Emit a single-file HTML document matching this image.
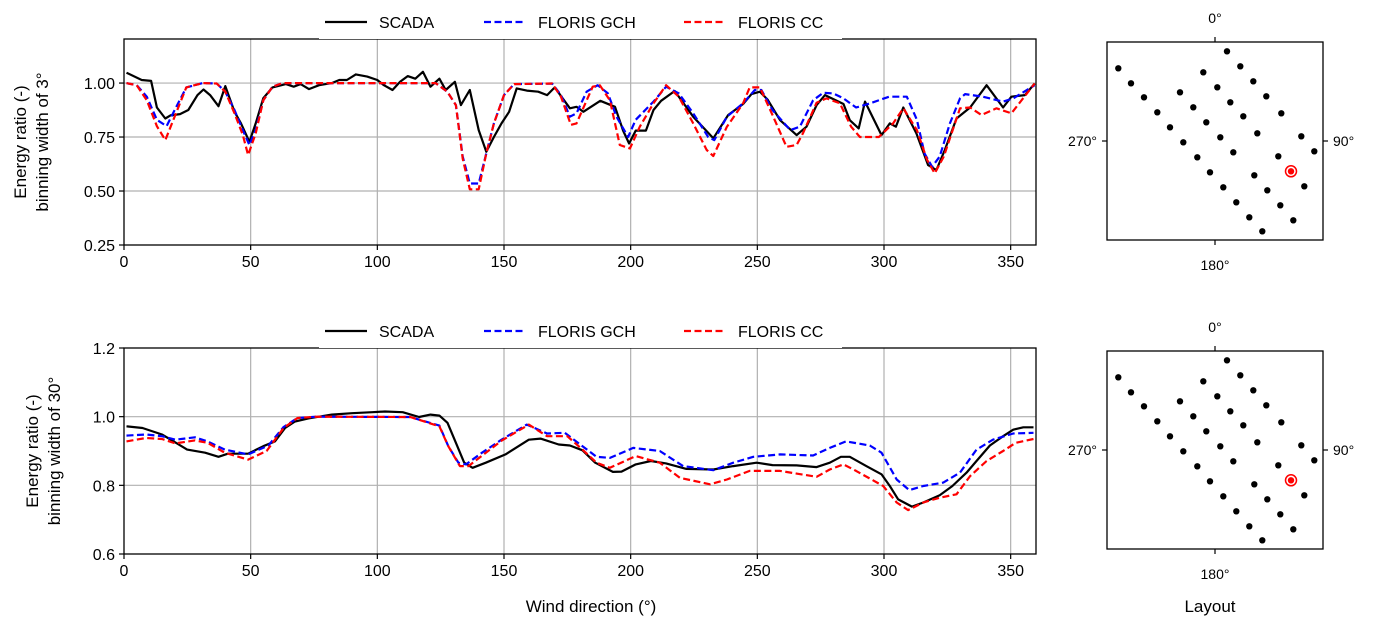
<!DOCTYPE html>
<html><head><meta charset="utf-8">
<style>
body{margin:0;background:#fff;}
svg{display:block;font-family:"Liberation Sans","DejaVu Sans",sans-serif;}
</style></head>
<body>
<svg id="fig" width="1379" height="629" viewBox="0 0 1379 629"></svg>
<script>
// ---- data ----
const xTicks = [0,50,100,150,200,250,300,350];
const topYTicks = [0.25,0.50,0.75,1.00];
const topYLabels = ["0.25","0.50","0.75","1.00"];
const botYTicks = [0.6,0.8,1.0,1.2];
const botYLabels = ["0.6","0.8","1.0","1.2"];
const seriesNames = ["SCADA","FLORIS GCH","FLORIS CC"];

const topScadaDir = [1,7,10.7,13,16.3,18.3,22.1,25.4,29,31.4,34,37.3,40,43.6,46.2,49.5,52,55,58.6,63.9,67,69.7,73,77,82,85,88,91.5,96,100,102.6,106,109,112,115,118,121,124.5,127,130.6,133,136.5,140,143,146,149,152,155,159,163.5,167,170,176,178.6,181.3,188,193.8,197,199.4,202,206,209,212,217.4,224.7,232.6,238.5,244.4,247.7,251,254,259,265.5,269.4,273.4,276.7,284,286.5,290,292.5,299,302.3,304.7,307.6,312.8,317.4,320.7,324,328.6,334,340.5,347,350.3,355.6,359.5];
const topScadaVal = [1.048,1.014,1.01,0.887,0.836,0.85,0.856,0.875,0.944,0.97,0.944,0.893,0.986,0.867,0.813,0.728,0.813,0.93,0.98,0.995,0.983,0.995,0.972,0.99,1.0,1.014,1.014,1.04,1.03,1.014,0.99,0.968,1.006,1.032,1.02,1.052,0.983,1.02,0.968,1.006,0.898,0.968,0.782,0.682,0.75,0.813,0.867,0.975,0.965,0.96,0.944,0.98,0.883,0.89,0.867,0.918,0.89,0.78,0.72,0.78,0.78,0.875,0.918,0.963,0.844,0.744,0.852,0.903,0.949,0.96,0.924,0.828,0.759,0.798,0.898,0.944,0.903,0.828,0.79,0.914,0.759,0.813,0.798,0.887,0.767,0.62,0.597,0.69,0.836,0.887,0.99,0.887,0.937,0.944,0.998];
const topGchDir = [1,5,9,13,16.8,20,24.6,31,36.6,40,43.6,46.9,49.5,52,55,58.6,62.6,123,127.6,131,133.7,136.5,140,143,146,150,154,169,172.5,176,178.6,182.6,187,191,194.4,199,202,209,214,219,224.7,230.6,233,238,244.4,249,251.6,256,263,266.8,272,276,280,284,289,294.5,302,309,313,316,319,322,326,330,332,339,347,351,359.5];
const topGchVal = [1.0,0.99,0.937,0.83,0.8,0.875,0.98,1.0,0.998,0.96,0.875,0.782,0.713,0.782,0.92,0.983,1.0,1.0,0.96,0.898,0.66,0.535,0.535,0.674,0.813,0.944,0.995,0.998,0.944,0.844,0.86,0.96,0.99,0.952,0.844,0.75,0.83,0.914,0.983,0.952,0.86,0.75,0.736,0.844,0.906,0.968,0.968,0.875,0.782,0.798,0.92,0.955,0.952,0.929,0.887,0.906,0.937,0.937,0.83,0.674,0.612,0.66,0.813,0.929,0.949,0.937,0.914,0.929,0.99];
const topCcDir = [1,5,9,13,16.3,19.5,24.6,31,36.6,40,43.6,46.9,49,52,55,58.6,62.6,123,127.6,131,133.7,136.5,140,143,146,150,154,169,172.5,176.4,178.6,185,187.8,191.8,195.7,199.7,203.6,209,214,219,224.7,230,232.6,238,244.4,247,251,256,261.5,265.5,268,273.4,277.3,282.6,287,290.5,298,303.6,307.6,313,317,320,323.6,330,334,338.5,344.4,350.3,359.5];
const topCcVal = [1.0,0.99,0.92,0.8,0.736,0.83,0.98,1.0,0.998,0.96,0.86,0.76,0.667,0.767,0.92,0.983,1.0,1.0,0.96,0.898,0.65,0.508,0.508,0.674,0.813,0.944,0.995,0.998,0.937,0.806,0.813,0.983,0.99,0.92,0.713,0.697,0.798,0.906,0.99,0.937,0.813,0.69,0.662,0.798,0.906,0.98,0.98,0.852,0.705,0.713,0.767,0.909,0.929,0.906,0.798,0.75,0.75,0.813,0.883,0.782,0.644,0.582,0.66,0.883,0.887,0.852,0.883,0.86,0.998];

const botScadaDir = [1,7.3,15,19.6,24.9,32,37.3,41,49,55,59.6,63.6,67.5,72.8,82,90,98,103,110,116.5,121,124.5,127.7,131,134.3,137.6,142.8,150.6,159.8,164.4,171.6,176,181,186,193,196.4,202,208,214,222,232.6,240.5,249.7,256,265.5,273.4,278.6,283,286.5,293,299,302.3,305.6,311,315.5,322,327,332.6,336.5,341.8,347,351,355,359];
const botScadaVal = [0.972,0.967,0.948,0.928,0.904,0.895,0.883,0.892,0.892,0.914,0.928,0.967,0.986,0.995,1.006,1.01,1.013,1.015,1.013,0.999,1.006,1.003,0.982,0.924,0.866,0.851,0.866,0.89,0.933,0.936,0.919,0.916,0.902,0.866,0.839,0.84,0.861,0.871,0.864,0.848,0.846,0.856,0.866,0.859,0.858,0.853,0.866,0.883,0.883,0.856,0.832,0.798,0.759,0.738,0.75,0.771,0.798,0.837,0.871,0.916,0.943,0.962,0.969,0.969];
const botGchDir = [1,8.7,15,20.3,28,33,39.8,49,57,63,68.5,76,113,124.5,128,132,135,141.3,149,159,167,174,181,186.5,191.8,201,211.5,220.7,232.6,240.5,248.4,259,272,278.6,285,294.4,299,305,310,315.5,323.4,330,336.5,343,351,359];
const botGchVal = [0.945,0.948,0.943,0.933,0.94,0.928,0.904,0.89,0.916,0.97,0.996,1.0,0.999,0.974,0.914,0.866,0.861,0.895,0.933,0.977,0.951,0.953,0.914,0.883,0.88,0.909,0.9,0.856,0.844,0.866,0.883,0.89,0.887,0.909,0.928,0.916,0.895,0.817,0.786,0.798,0.808,0.837,0.904,0.933,0.951,0.953];
const botCcDir = [1,8.7,15,20.3,28,33,39.8,49,56.3,63,68.5,76,113,124.5,128,132.6,136,149,159.8,167,175,181,186.5,191.8,202,211.5,219.4,231.3,238,247,259,273.4,278.6,284,289,299.7,305,309.5,315.5,322,328.6,334,340.5,347,352,359];
const botCcVal = [0.928,0.938,0.935,0.922,0.931,0.924,0.895,0.875,0.9,0.967,0.996,1.0,0.999,0.972,0.914,0.856,0.856,0.93,0.977,0.943,0.943,0.904,0.866,0.851,0.885,0.866,0.822,0.803,0.817,0.842,0.842,0.825,0.846,0.861,0.842,0.798,0.75,0.728,0.75,0.764,0.774,0.827,0.871,0.9,0.924,0.935];

// turbine layout (relative to panel box origin, px)
const turbX = [120,133.3,146.3,159.3,174.3,194.3,207.3, 96.3,110.3,123.3,136.3,150.3,171.3,197.3, 73,86.3,99.3,113.3,126.3,147.3,160.3,173.3,186.3, 11.3,24,37,50.3,63,76.3,90.3,103,116.3,129.3,142.3,155.3];
const turbY = [9.3,24.3,39.3,54.3,71.3,94.3,109.3, 30.3,45.3,60.3,74.3,91.3,114.3,144.3, 50.3,65.3,80.3,95.3,110.3,133.3,148.3,163.3,178.3, 26.3,41.3,55.3,70.3,85.3,100.3,115.3,130.3,145.3,160.3,175.3,189.3];
const highlightTurbine = {x:184,y:129.3};

// ---- drawing ----
const NS = "http://www.w3.org/2000/svg";
const svg = document.getElementById('fig');
function mk(tag, attrs, parent){
  const e = document.createElementNS(NS, tag);
  for (const k in attrs) e.setAttribute(k, attrs[k]);
  (parent||svg).appendChild(e);
  return e;
}
const X0 = 124, X1 = 1036;
function xScale(d){ return X0 + (d/360)*(X1-X0); }

function drawChart(cfg){
  const g = mk('g', {});
  
  
  const yS = v => cfg.yBot - (v-cfg.yMin)/(cfg.yMax-cfg.yMin)*(cfg.yBot-cfg.yTop);
  xTicks.forEach(t=>{
    if (t>0){
      const l = mk('line',{x1:xScale(t),x2:xScale(t),y1:cfg.yTop,y2:cfg.yBot,stroke:'#b0b0b0','stroke-width':1.2},g);
      
      
    }
    const tk = mk('line',{x1:xScale(t),x2:xScale(t),y1:cfg.yBot,y2:cfg.yBot+5,stroke:'#000','stroke-width':1.2},g);
    
    
    const tx = mk('text',{x:xScale(t),y:cfg.yBot+22,'text-anchor':'middle','font-size':16,fill:'#000'},g);
    tx.textContent = t;
    
    
  });
  cfg.yTicks.forEach((t,i)=>{
    if (t>cfg.yMin && t<cfg.yMax){
      const l = mk('line',{x1:X0,x2:X1,y1:yS(t),y2:yS(t),stroke:'#b0b0b0','stroke-width':1.2},g);
      
      
    }
    const tk = mk('line',{x1:X0-5,x2:X0,y1:yS(t),y2:yS(t),stroke:'#000','stroke-width':1.2},g);
    
    
    const tx = mk('text',{x:X0-9,y:yS(t)+6,'text-anchor':'end','font-size':16,fill:'#000'},g);
    tx.textContent = cfg.yLabels[i];
    
    
  });
  const styles = [
    {stroke:'#000', dash:null},
    {stroke:'#0000ff', dash:'7,3.5'},
    {stroke:'#ff0000', dash:'7,3.5'}
  ];
  const names = ['scada-line','floris-gch-line','floris-cc-line'];
  cfg.series.forEach((s,i)=>{
    const pts = s.dir.map((d,j)=>xScale(d).toFixed(1)+','+yS(s.val[j]).toFixed(1)).join(' ');
    const a = {points:pts,fill:'none',stroke:styles[i].stroke,'stroke-width':2.2,'stroke-linejoin':'round'};
    if (styles[i].dash) a['stroke-dasharray'] = styles[i].dash;
    const p = mk('polyline',a,g);
    
    
  });
  const fr = mk('rect',{x:X0,y:cfg.yTop,width:X1-X0,height:cfg.yBot-cfg.yTop,fill:'none',stroke:'#000','stroke-width':1.3},g);
  
  
  const lg = mk('g',{},g);
  
  
  const ly = cfg.yTop - 17;
  mk('rect',{x:319,y:ly-15,width:523,height:32,fill:'#fff'},lg);
  const lx = [325,484,684];
  seriesNames.forEach((n,i)=>{
    const a = {x1:lx[i],x2:lx[i]+42,y1:ly,y2:ly,stroke:styles[i].stroke,'stroke-width':2.2};
    if (styles[i].dash) a['stroke-dasharray'] = styles[i].dash;
    const l = mk('line',a,lg);
    
    
    const t = mk('text',{x:lx[i]+54,y:ly+6,'font-size':16,fill:'#000'},lg);
    t.textContent = n;
    
    
  });
  cfg.yTitle.forEach((txt,i)=>{
    const cx = cfg.yTitleX[i], cy = (cfg.yTop+cfg.yBot)/2;
    const t = mk('text',{x:cx,y:cy,'text-anchor':'middle','font-size':17,fill:'#000',transform:`rotate(-90 ${cx} ${cy})`},g);
    t.textContent = txt;
    
    
  });
}

drawChart({name:'top-chart',yTop:39,yBot:245,yMin:0.25,yMax:1.204,yTicks:topYTicks,yLabels:topYLabels,
  yTitle:['Energy ratio (-)','binning width of 3°'],yTitleX:[26,48],
  series:[{dir:topScadaDir,val:topScadaVal},{dir:topGchDir,val:topGchVal},{dir:topCcDir,val:topCcVal}]});
drawChart({name:'bottom-chart',yTop:348,yBot:554,yMin:0.6,yMax:1.2,yTicks:botYTicks,yLabels:botYLabels,
  yTitle:['Energy ratio (-)','binning width of 30°'],yTitleX:[38,60],
  series:[{dir:botScadaDir,val:botScadaVal},{dir:botGchDir,val:botGchVal},{dir:botCcDir,val:botCcVal}]});

const xt = mk('text',{x:591,y:612,'text-anchor':'middle','font-size':17,fill:'#000'});
xt.textContent = 'Wind direction (°)';



function drawLayout(oy, name){
  const g = mk('g',{transform:`translate(1107 ${oy})`});
  
  
  mk('rect',{x:0,y:0,width:216,height:198,fill:'none',stroke:'#000','stroke-width':1.3},g);
  mk('line',{x1:108,x2:108,y1:0,y2:-5,stroke:'#000','stroke-width':1.2},g);
  mk('line',{x1:108,x2:108,y1:198,y2:203,stroke:'#000','stroke-width':1.2},g);
  mk('line',{x1:0,x2:-5,y1:99,y2:99,stroke:'#000','stroke-width':1.2},g);
  mk('line',{x1:216,x2:221,y1:99,y2:99,stroke:'#000','stroke-width':1.2},g);
  const labs = [['0°',108,-19,'middle'],['180°',108,228,'middle'],['270°',-10,104,'end'],['90°',226,104,'start']];
  labs.forEach(l=>{
    const t = mk('text',{x:l[1],y:l[2],'text-anchor':l[3],'font-size':14,fill:'#000'},g);
    t.textContent = l[0];
    
    
  });
  turbX.forEach((x,i)=>{
    const c = mk('circle',{cx:x,cy:turbY[i],r:3.2,fill:'#000'},g);
    
    
  });
  const h = mk('circle',{cx:highlightTurbine.x,cy:highlightTurbine.y,r:5.5,fill:'none',stroke:'#ff0000','stroke-width':1.5},g);
  
  
  mk('circle',{cx:highlightTurbine.x,cy:highlightTurbine.y,r:3.2,fill:'#ff0000'},g);
}
drawLayout(42,'layout-top');
drawLayout(351,'layout-bottom');

const lt = mk('text',{x:1210,y:612,'text-anchor':'middle','font-size':17,fill:'#000'});
lt.textContent = 'Layout';


</script>
</body></html>
